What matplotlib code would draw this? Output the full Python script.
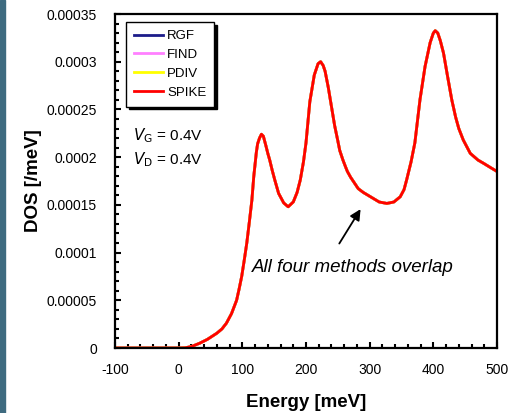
import matplotlib
matplotlib.use("Agg")
import matplotlib.pyplot as plt
from matplotlib.patches import Rectangle
from matplotlib.ticker import MultipleLocator

plt.rcParams['font.family'] = ['Liberation Sans', 'DejaVu Sans']
plt.rcParams['axes.unicode_minus'] = False

# energy [meV] and DOS (DOS in units of 1e-4 /meV)
energy = [-100, -50, 0, 10, 20, 33, 45, 60, 68, 75, 83, 91, 95, 99, 103, 107, 111,
          115, 118, 122, 124, 127, 130, 133, 137, 140, 143, 147, 151, 157, 165,
          172, 180, 186, 191, 196, 200, 206, 213, 219, 223, 227, 230, 235, 240,
          245, 250, 253, 258, 262, 265, 270, 275, 282, 290, 305, 315, 327, 338,
          348, 354, 358, 365, 371, 379, 387, 395, 400, 403, 407, 411, 416, 422,
          429, 435, 440, 447, 458, 470, 479, 490, 500]
dos_e4 = [0, 0, 0, 0.002, 0.015, 0.05, 0.09, 0.155, 0.20, 0.26, 0.36, 0.50, 0.62,
          0.75, 0.92, 1.10, 1.32, 1.55, 1.80, 2.05, 2.14, 2.20, 2.24, 2.22, 2.12,
          2.04, 1.97, 1.86, 1.76, 1.62, 1.52, 1.48, 1.53, 1.63, 1.76, 1.95, 2.15,
          2.58, 2.86, 2.98, 3.00, 2.96, 2.90, 2.73, 2.53, 2.33, 2.17, 2.07, 1.97,
          1.90, 1.85, 1.79, 1.74, 1.67, 1.63, 1.57, 1.53, 1.515, 1.53, 1.585,
          1.66, 1.76, 1.95, 2.15, 2.60, 2.95, 3.20, 3.30, 3.325, 3.30, 3.22,
          3.09, 2.86, 2.60, 2.42, 2.30, 2.18, 2.04, 1.97, 1.935, 1.89, 1.85]
dos = [v * 1e-4 for v in dos_e4]

methods = ['RGF', 'FIND', 'PDIV', 'SPIKE']
colors = ['#1c1c8a', '#ff80ff', '#ffff00', '#ff0000']

ytick_vals = [0, 0.00005, 0.0001, 0.00015, 0.0002, 0.00025, 0.0003, 0.00035]
ytick_labels = ['0', '0.00005', '0.0001', '0.00015', '0.0002', '0.00025', '0.0003', '0.00035']
xtick_vals = [-100, 0, 100, 200, 300, 400, 500]

fig = plt.figure(figsize=(5.1, 4.13), dpi=100)
fig.subplots_adjust(left=115/510, right=497/510, top=1-14/413, bottom=1-348/413)
ax = fig.add_subplot(111)

# all four methods give the same curve
for name, c in zip(methods, colors):
    ax.plot(energy, dos, color=c, lw=2, label=name)

ax.set_xlim(-100, 500)
ax.set_ylim(0, 0.00035)
ax.set_xticks(xtick_vals)
ax.set_yticks(ytick_vals)
ax.set_yticklabels(ytick_labels)
ax.xaxis.set_minor_locator(MultipleLocator(20))
ax.yaxis.set_minor_locator(MultipleLocator(0.00001))
ax.tick_params(which='both', direction='in', top=False, right=False, labelsize=10, width=1.5)
ax.tick_params(which='major', length=4)
ax.tick_params(axis='y', which='major', pad=13)
ax.tick_params(axis='x', which='major', pad=11)
ax.tick_params(which='minor', length=3)
for s in ax.spines.values():
    s.set_linewidth(1.6)

ax.set_xlabel('Energy [meV]', fontsize=13.5, fontweight='bold', labelpad=12)
ax.set_ylabel('DOS [/meV]', fontsize=13.5, fontweight='bold', labelpad=3)

leg = ax.legend(loc='upper left', bbox_to_anchor=(0.029, 0.976), borderaxespad=0,
                fontsize=9.5, frameon=True, fancybox=False, handlelength=2.2,
                handletextpad=0.3, labelspacing=0.5, borderpad=0.6,
                shadow={'color': 'k', 'alpha': 1, 'ox': 2, 'oy': -2})
leg.get_frame().set_edgecolor('k')
leg.get_frame().set_linewidth(1.0)

ax.text(0.047, 0.636, r'$\mathit{V}$$_{\mathrm{G}}$ = 0.4V', transform=ax.transAxes,
        fontsize=11, va='center')
ax.text(0.047, 0.564, r'$\mathit{V}$$_{\mathrm{D}}$ = 0.4V', transform=ax.transAxes,
        fontsize=11, va='center')

ax.annotate('', xy=(288, 0.000148), xytext=(250, 0.000107),
            arrowprops=dict(arrowstyle='-|>', color='k', lw=1.3, mutation_scale=16))
ax.text(115, 0.0000848, 'All four methods overlap', fontsize=13.5, style='italic',
        va='center', ha='left')

fig.patches.append(Rectangle((0, 0), 5/510, 1, transform=fig.transFigure,
                             color='#3e6b80', zorder=-1))

fig.savefig('out.png', dpi=100)
